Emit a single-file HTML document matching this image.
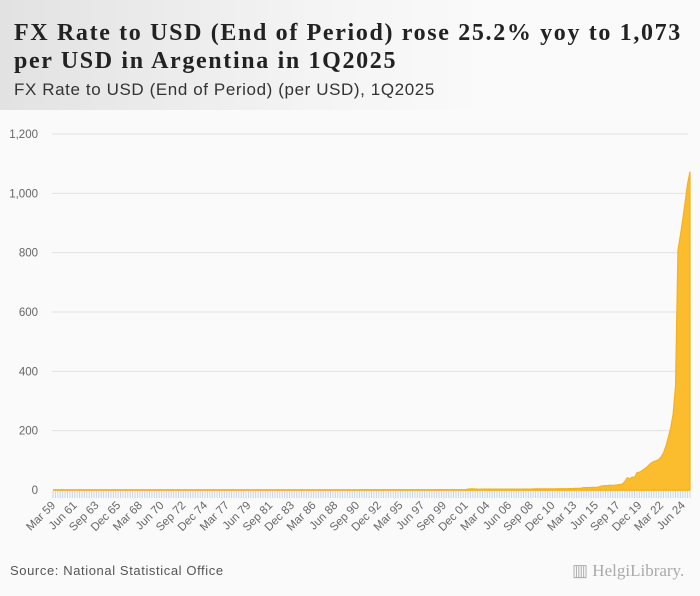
<!DOCTYPE html>
<html><head><meta charset="utf-8">
<style>
body{margin:0;width:700px;height:596px;background:#fafafa;font-family:"Liberation Sans",sans-serif;overflow:hidden;position:relative}
#hdr{position:absolute;left:0;top:0;width:700px;height:110px;background:linear-gradient(90deg,#e2e2e2 0%,#f4f4f4 45%,#fafafa 70%)}
#title{position:absolute;left:14px;top:19px;font-family:"Liberation Serif",serif;font-weight:bold;font-size:24px;line-height:28px;color:#222;margin:0;letter-spacing:1.65px}
#sub{position:absolute;left:14px;top:80px;font-size:17px;color:#333;letter-spacing:0.6px}
#src{position:absolute;left:10px;top:563px;font-size:13px;color:#555;letter-spacing:0.6px}
#logo{position:absolute;left:572px;top:561px;font-size:17px;color:#aaa;font-family:"Liberation Serif",serif}
svg{position:absolute;left:0;top:0}
</style></head><body>
<div id="hdr"></div>
<h1 id="title">FX Rate to USD (End of Period) rose 25.2% yoy to 1,073<br>per USD in Argentina in 1Q2025</h1>
<div id="sub">FX Rate to USD (End of Period) (per USD), 1Q2025</div>
<svg id="chart" width="700" height="596"></svg>
<div id="src">Source: National Statistical Office</div>
<div id="logo">▥ HelgiLibrary.</div>
<script>
const yTicks=[0,200,400,600,800,1000,1200];
const yTickLabels=["0","200","400","600","800","1,000","1,200"];
const values=[
0,0,0,0,0,0,0,0,0,0,0,0,0,0,0,0,0,0,0,0,0,0,0,0,0,0,0,0,0,0,0,0,
0,0,0,0,0,0,0,0,0,0,0,0,0,0,0,0,0,0,0,0,0,0,0,0,0,0,0,0,0,0,0,0,
0,0,0,0,0,0,0,0,0,0,0,0,0,0,0,0,0,0,0,0,0,0,0,0,0,0,0,0,0,0,0,0,
0,0,0,0,0,0,0,0,0,0,0,0,0,0,0,0,0,0,0,0,0,0,0,0,0,0,0,0,0,0,0,0,
1,1,1,1,1,1,1,1,1,1,1,1,1,1,1,1,1,1,1,1,1,1,1,1,1,1,1,1,1,1,1,1,1,1,1,1,1,1,1,1,1,1,1,1,
2.9,3.8,3.7,3.4, 2.9,2.8,2.9,2.9, 2.9,3.0,3.0,3.0, 2.9,2.9,2.9,3.0, 3.1,3.1,3.1,3.1, 3.1,3.1,3.2,3.2,
3.2,3.0,3.0,3.4, 3.7,3.8,3.8,3.8, 3.9,3.9,4.0,4.0, 4.05,4.1,4.2,4.3, 4.4,4.5,4.7,4.9, 5.1,5.4,5.8,6.5,
8.0,8.1,8.4,8.6, 8.8,9.1,9.4,13.0, 14.6,15.0,15.3,15.9, 15.4,16.6,17.3,18.8, 20.1,28.9,41.3,37.7,
43.4,42.5,57.6,59.9, 64.5,70.5,76.2,84.1, 92.0,95.7,98.7,102.7, 111,125,147,177, 209,256,350,808,
858,912,970,1032, 1073];
const qNames=["Mar","Jun","Sep","Dec"];
const firstYear=1959;
const svg=document.getElementById('chart');
const NS="http://www.w3.org/2000/svg";
const X0=53,X1=690,Y0=490,Y1=134,YMAX=1200;
const n=values.length;
const x=i=>X0+i*(X1-X0)/(n-1);
const y=v=>Y0-v*(Y0-Y1)/YMAX;
function mk(t,a){const e=document.createElementNS(NS,t);for(const k in a)e.setAttribute(k,a[k]);svg.appendChild(e);return e;}
yTicks.forEach((t,i)=>{
 if(t>0){const g=mk('line',{x1:52,x2:688,y1:y(t),y2:y(t),stroke:'#e2e2e2','stroke-width':1});
 
 }
 const l=mk('text',{x:38,y:y(t)+4,'text-anchor':'end','font-size':11.5,fill:'#666','font-family':'Liberation Sans, sans-serif'});
 l.textContent=yTickLabels[i];
 
 
});
for(let i=0;i<n;i++){
 const t=mk('line',{x1:x(i),x2:x(i),y1:Y0+1,y2:Y0+8,stroke:'#c5d3ea','stroke-width':1});
 
 
 if(i%9===0){
  const yr=firstYear+Math.floor(i/4);
  const lab=qNames[i%4]+" "+String(yr%100).padStart(2,'0');
  const tx=x(i)+3,ty=Y0+16;
  const l=mk('text',{x:tx,y:ty,'text-anchor':'end','font-size':11.5,fill:'#666','font-family':'Liberation Sans, sans-serif',transform:`rotate(-45 ${tx} ${ty})`});
  l.textContent=lab;
  
  
 }
}
const ax=mk('line',{x1:53,x2:690,y1:Y0,y2:Y0,stroke:'#f5c460','stroke-width':2});


let d=`M${x(0)},${Y0}`;
values.forEach((v,i)=>{d+=` L${x(i).toFixed(2)},${y(v).toFixed(2)}`;});
d+=` L${x(n-1)},${Y0} Z`;
const area=mk('path',{d:d,fill:'#fbbc2e',stroke:'#f5b21c','stroke-width':1.2});


</script>
</body></html>
